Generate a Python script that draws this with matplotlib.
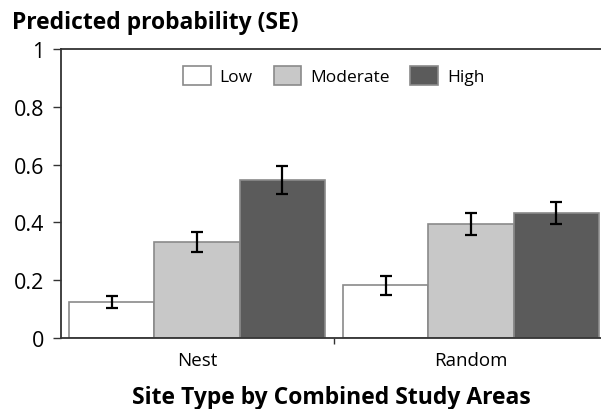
import numpy as np
import matplotlib
matplotlib.use('Agg')
import matplotlib.pyplot as plt

plt.rcParams['font.family'] = ['Open Sans', 'DejaVu Sans']

# data
site_types = ['Nest', 'Random']
levels = ['Low', 'Moderate', 'High']
low = [0.125, 0.183]
moderate = [0.332, 0.394]
high = [0.547, 0.432]
low_se = [0.021, 0.033]
moderate_se = [0.035, 0.038]
high_se = [0.05, 0.038]

colors = ['white', '#c8c8c8', '#5b5b5b']

fig = plt.figure(figsize=(6.01, 4.10), dpi=100)
ax = fig.add_axes([0.1015, 0.173, 0.8985, 0.705])

x = np.arange(len(site_types))
w = 0.311
for i, (vals, se) in enumerate([(low, low_se), (moderate, moderate_se), (high, high_se)]):
    ax.bar(x + (i - 1) * w, vals, w, color=colors[i], edgecolor='#8a8a8a', linewidth=1.2,
           label=levels[i], zorder=2)
    ax.errorbar(x + (i - 1) * w, vals, yerr=se, fmt='none', ecolor='black',
                elinewidth=1.6, capsize=4.5, capthick=1.6, zorder=3)

ax.set_xlim(-0.496, 1.474)
ax.set_ylim(0, 1)
ax.set_yticks([0, 0.2, 0.4, 0.6, 0.8, 1])
ax.set_yticklabels(['0', '0.2', '0.4', '0.6', '0.8', '1'])
ax.set_xticks(x)
ax.set_xticklabels(site_types)
ax.tick_params(axis='x', length=0, labelsize=13.5, pad=9)
ax.set_xticks([0.5], minor=True)
ax.tick_params(axis='x', which='minor', length=4, width=1, color='#333333')
ax.tick_params(axis='y', length=6, width=1, labelsize=15.5, color='#333333', pad=6)

for s in ['left', 'bottom', 'top']:
    ax.spines[s].set_color('#333333')
    ax.spines[s].set_linewidth(1.3)
ax.spines['right'].set_visible(False)

ax.legend(loc='upper center', bbox_to_anchor=(0.505, 0.995), ncol=3, frameon=False,
          fontsize=12.5, handlelength=1.6, handleheight=1.3, columnspacing=1.2,
          handletextpad=0.5)

fig.text(0.02, 0.945, 'Predicted probability (SE)', fontsize=16.5, fontweight='bold',
         va='center')
ax.set_xlabel('Site Type by Combined Study Areas', fontsize=16.5, fontweight='bold',
              labelpad=12)

fig.savefig('out.png', dpi=100)
